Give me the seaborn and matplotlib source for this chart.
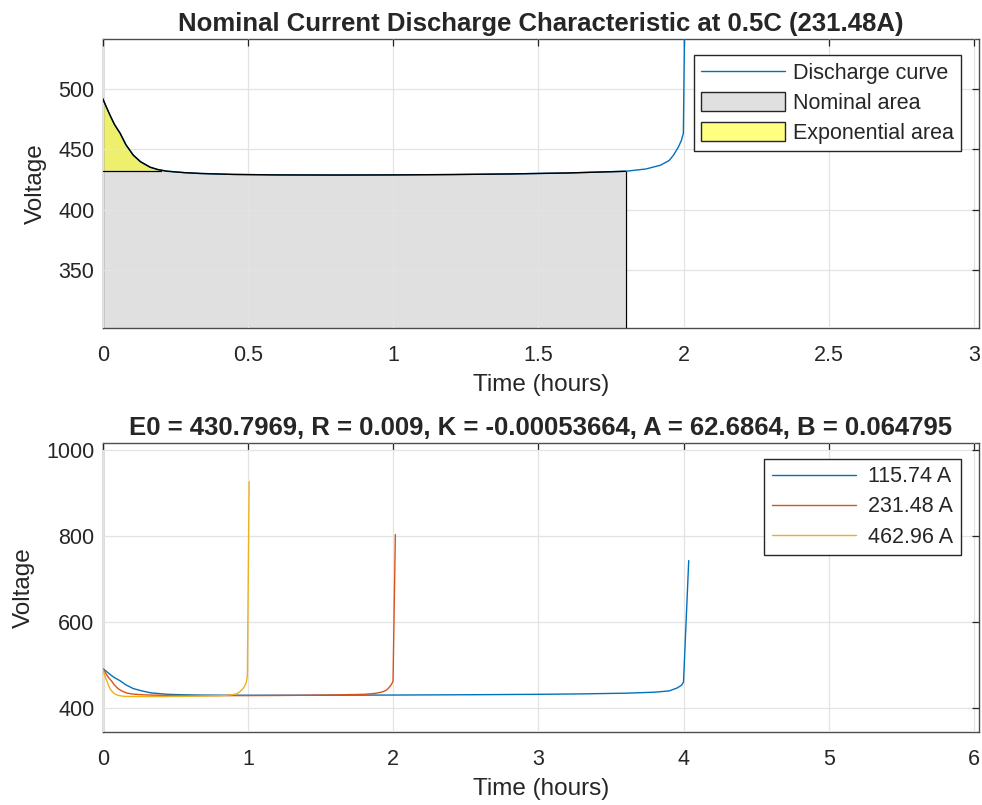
import matplotlib
matplotlib.use("Agg")
import matplotlib.pyplot as plt
from matplotlib.patches import Patch
from matplotlib.lines import Line2D
import seaborn as sns
import pandas as pd
import numpy as np


# -------------------- Data --------------------

# 231.48 A (0.5C) discharge curve, time in hours, voltage in V
t_mid = [0.0, 0.012, 0.025, 0.04, 0.06, 0.08, 0.105, 0.13, 0.163, 0.19, 0.22, 0.28,
         0.335, 0.45, 0.6, 0.8, 1.0, 1.2, 1.4, 1.6, 1.8, 1.87, 1.92, 1.95, 1.965,
         1.982, 1.992, 1.999, 2.015]
v_mid = [491.7, 485.0, 478.0, 470.5, 463.0, 453.5, 445.0, 439.5, 435.0, 433.0, 431.7, 430.5,
         429.8, 429.0, 428.6, 428.5, 428.6, 428.9, 429.4, 430.2, 431.6, 433.5, 436.6, 440.5, 444.9,
         451.7, 457.0, 463.0, 803.0]

# 115.74 A (0.25C)
t_low = [0.0, 0.025, 0.05, 0.08, 0.12, 0.16, 0.21, 0.27, 0.33, 0.44, 0.56, 0.67,
         1.0, 1.5, 2.0, 2.5, 3.0, 3.3, 3.6, 3.8, 3.9, 3.953, 3.985, 3.999, 4.035]
v_low = [491.7, 485.0, 478.0, 470.5, 463.0, 453.5, 445.0, 439.5, 435.0, 431.7, 430.5, 429.8,
         429.4, 429.5, 429.9, 430.6, 431.6, 432.6, 434.2, 436.5, 439.5, 446.0, 452.5, 460.0, 742.6]

# 462.96 A (1C)
t_high = [0.0, 0.006, 0.012, 0.02, 0.03, 0.04, 0.052, 0.065, 0.08, 0.095, 0.11, 0.14,
          0.17, 0.25, 0.4, 0.6, 0.8, 0.88, 0.92, 0.946, 0.965, 0.978, 0.99, 0.996, 1.008]
v_high = [491.0, 484.0, 477.0, 469.5, 461.5, 452.5, 444.0, 438.0, 433.5, 430.5, 428.8, 427.2,
          426.6, 426.3, 426.4, 427.0, 428.3, 430.0, 432.5, 438.0, 444.5, 451.0, 461.0, 475.0, 926.0]

currents = ["115.74 A", "231.48 A", "462.96 A"]
nominal_end = 1.8      # hours, end of the nominal zone
exp_level = 432.0      # V, end of the exponential zone

title_top = "Nominal Current Discharge Characteristic at 0.5C (231.48A)"
title_bottom = "E0 = 430.7969, R = 0.009, K = -0.00053664, A = 62.6864, B = 0.064795"

# -------------------- Style --------------------

sns.set_style("whitegrid")
plt.rcParams["font.family"] = ["Liberation Sans", "DejaVu Sans"]

ML_BLUE, ML_ORANGE, ML_YELLOW = "#0072BD", "#D95319", "#EDB120"
AX_COL = "#262626"
GRID_COL = "#e3e3e3"
TICK_FS, LABEL_FS, TITLE_FS, LEG_FS = 15.5, 17.5, 18.5, 15.5


def matlab_axes(ax):
    ax.set_facecolor("white")
    for spine in ax.spines.values():
        spine.set_visible(True)
        spine.set_color("#4d4d4d")
        spine.set_linewidth(1.0)
    ax.grid(True, color=GRID_COL, linewidth=0.9)
    ax.tick_params(direction="in", length=5, width=0.9, colors=AX_COL,
                   labelsize=TICK_FS, top=True, right=True, pad=6,
                   labeltop=False, labelright=False)
    ax.tick_params(axis="x", pad=12)
    ax.set_axisbelow(False)


fig = plt.figure(figsize=(9.82, 8.05), dpi=100)
ax1 = fig.add_axes([0.1046, 0.5925, 0.8924, 0.3591])
ax2 = fig.add_axes([0.1046, 0.0907, 0.8924, 0.3590])

# -------------------- Top plot --------------------

ymin1, ymax1 = 302, 541
t_arr = np.array(t_mid)
v_arr = np.array(v_mid)
mask_nom = t_arr <= nominal_end
ax1.fill_between(t_arr[mask_nom], ymin1, np.minimum(v_arr[mask_nom], exp_level),
                 facecolor="#e0e0e0", edgecolor="none", zorder=1)
ax1.plot([nominal_end, nominal_end], [ymin1, v_arr[mask_nom][-1]], color="black", lw=0.9, zorder=3)
ax1.plot([0, 0.2], [exp_level, exp_level], color="black", lw=0.9, zorder=3)

mask_exp = (v_arr >= exp_level) & (t_arr < 1.0)
ax1.fill_between(t_arr[mask_exp], exp_level, v_arr[mask_exp],
                 facecolor="#efef6e", edgecolor="none", zorder=1)

df_mid = pd.DataFrame({"Time": t_mid, "Voltage": v_mid})
sns.lineplot(data=df_mid, x="Time", y="Voltage", ax=ax1, color=ML_BLUE, lw=1.0,
             estimator=None, sort=False, zorder=3)
# black outline of the curve across the shaded region
ax1.plot(t_arr[mask_nom], v_arr[mask_nom], color="black", lw=1.0, zorder=4)

matlab_axes(ax1)
ax1.set_xlim(0, 3.017)
ax1.set_ylim(ymin1, ymax1)
ax1.set_xticks([0, 0.5, 1, 1.5, 2, 2.5, 3])
ax1.set_xticklabels(["0", "0.5", "1", "1.5", "2", "2.5", "3"])
ax1.set_yticks([350, 400, 450, 500])
ax1.set_xlabel("Time (hours)", fontsize=LABEL_FS, color=AX_COL, labelpad=6)
ax1.set_ylabel("Voltage", fontsize=LABEL_FS, color=AX_COL, labelpad=8)
ax1.set_title(title_top, fontsize=TITLE_FS, fontweight="bold", pad=6)

handles = [Line2D([], [], color=ML_BLUE, lw=1.0),
           Patch(facecolor="#e0e0e0", edgecolor=AX_COL, lw=1.0),
           Patch(facecolor="#ffff80", edgecolor=AX_COL, lw=1.0)]
leg1 = ax1.legend(handles, ["Discharge curve", "Nominal area", "Exponential area"],
                  loc="upper right", bbox_to_anchor=(0.9795, 0.945), fontsize=LEG_FS,
                  frameon=True, fancybox=False, edgecolor=AX_COL, framealpha=1,
                  handlelength=3.9, handleheight=1.0, borderpad=0.35, labelspacing=0.36,
                  handletextpad=0.35, borderaxespad=0)
leg1.get_frame().set_linewidth(1.0)

# -------------------- Bottom plot --------------------

df_all = pd.concat([
    pd.DataFrame({"Time": t_low, "Voltage": v_low, "Current": currents[0]}),
    pd.DataFrame({"Time": t_mid, "Voltage": v_mid, "Current": currents[1]}),
    pd.DataFrame({"Time": t_high, "Voltage": v_high, "Current": currents[2]}),
], ignore_index=True)

sns.lineplot(data=df_all, x="Time", y="Voltage", hue="Current", hue_order=currents,
             palette=[ML_BLUE, ML_ORANGE, ML_YELLOW], estimator=None, sort=False,
             lw=1.0, ax=ax2)
for ln in ax2.get_lines():
    ln.set_zorder(3)

matlab_axes(ax2)
ax2.set_xlim(0, 6.034)
ax2.set_ylim(344, 1016)
ax2.set_xticks(range(0, 7))
ax2.set_yticks([400, 600, 800, 1000])
ax2.set_xlabel("Time (hours)", fontsize=LABEL_FS, color=AX_COL, labelpad=6)
ax2.set_ylabel("Voltage", fontsize=LABEL_FS, color=AX_COL, labelpad=8)
ax2.set_title(title_bottom, fontsize=TITLE_FS, fontweight="bold", pad=6)

leg2 = ax2.legend(loc="upper right", bbox_to_anchor=(0.9795, 0.945), fontsize=LEG_FS,
                  frameon=True, fancybox=False, edgecolor=AX_COL, framealpha=1,
                  handlelength=3.9, borderpad=0.35, labelspacing=0.42,
                  handletextpad=0.6, borderaxespad=0, title=None)
leg2.get_frame().set_linewidth(1.0)

fig.savefig("out.png", dpi=100, facecolor="white")
